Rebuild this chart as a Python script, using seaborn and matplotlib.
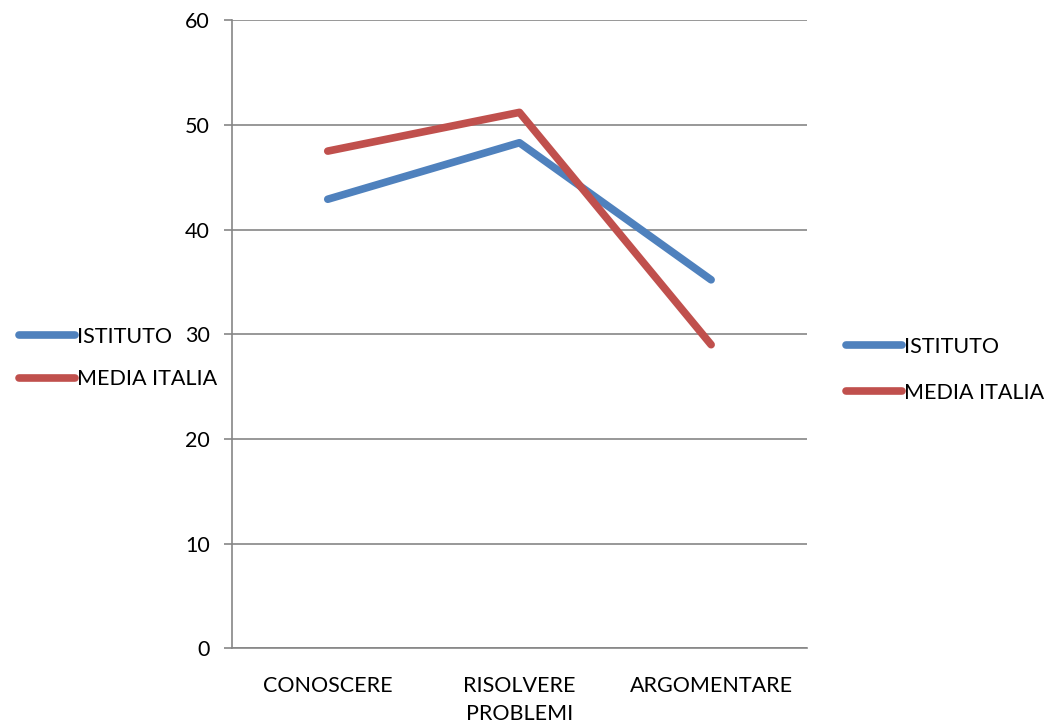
import pandas as pd
import seaborn as sns
import matplotlib.pyplot as plt
from matplotlib.ticker import FixedLocator

# values
categories = ["CONOSCERE", "RISOLVERE\nPROBLEMI", "ARGOMENTARE"]
istituto = [42.9, 48.3, 35.2]
media_italia = [47.5, 51.2, 29.0]
series_names = ["ISTITUTO", "MEDIA ITALIA"]

df = pd.DataFrame({
    "pos": list(range(len(categories))) * 2,
    "value": istituto + media_italia,
    "serie": [series_names[0]] * 3 + [series_names[1]] * 3,
})

sns.set_style("white")
plt.rcParams["font.family"] = ["Lato", "DejaVu Sans"]
plt.rcParams["text.color"] = "black"
fs = 15.5

fig = plt.figure(figsize=(10.59, 7.25), dpi=100)
ax = fig.add_axes([0.219, 0.106, 0.543, 0.866])

palette = {"ISTITUTO": "#4F81BD", "MEDIA ITALIA": "#C0504D"}
sns.lineplot(data=df, x="pos", y="value", hue="serie", palette=palette,
             linewidth=5.5, ax=ax, legend=False, solid_capstyle="round")

ax.set_xlim(-0.5, 2.5)
ax.set_ylim(0, 60)
ax.set_yticks(range(0, 61, 10))
ax.yaxis.grid(True, color="#868686", linewidth=1.2)
ax.set_axisbelow(True)
ax.set_xticks(range(3))
ax.set_xticklabels(categories, fontsize=fs, linespacing=1.5)
ax.xaxis.set_minor_locator(FixedLocator([-0.5, 0.5, 1.5, 2.5]))
ax.tick_params(axis="x", which="major", length=0, pad=20, labelcolor="black")
ax.tick_params(axis="x", which="minor", length=6, color="#868686", width=1.2)
ax.tick_params(axis="y", length=6, color="#868686", width=1.2, labelsize=fs,
               pad=10, left=True, labelcolor="black")
ax.set_xlabel("")
ax.set_ylabel("")
for s in ["top", "right"]:
    ax.spines[s].set_visible(False)
for s in ["left", "bottom"]:
    ax.spines[s].set_color("#868686")
    ax.spines[s].set_linewidth(1.2)

handles = [plt.Line2D([], [], color=palette[n], linewidth=5.5, solid_capstyle="round")
           for n in series_names]

# Excel shows the legend twice: once overlapping the axis, once on the right
fig.legend(handles, series_names, loc="center left", bbox_to_anchor=(0.018, 0.506),
           frameon=False, fontsize=fs, handlelength=2.6, handletextpad=0.1,
           labelspacing=1.05, borderpad=0, borderaxespad=0)
fig.legend(handles, series_names, loc="center left", bbox_to_anchor=(0.799, 0.49),
           frameon=False, fontsize=fs, handlelength=2.6, handletextpad=0.1,
           labelspacing=1.2, borderpad=0, borderaxespad=0)

fig.savefig("out.png", dpi=100)
